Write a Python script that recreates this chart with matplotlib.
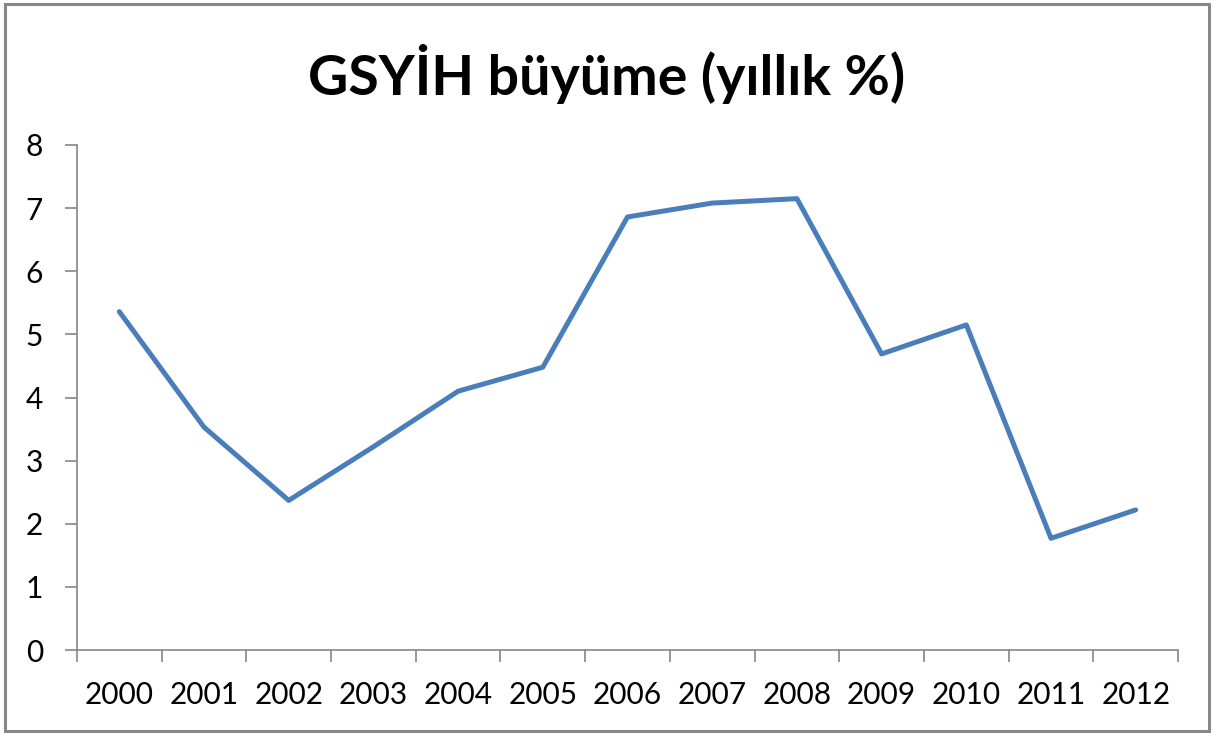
import matplotlib.pyplot as plt
from matplotlib.patches import Rectangle
import numpy as np

# Data
years = ['2000', '2001', '2002', '2003', '2004', '2005', '2006',
         '2007', '2008', '2009', '2010', '2011', '2012']
growth = [5.36, 3.53, 2.37, 3.22, 4.10, 4.48, 6.86,
          7.08, 7.15, 4.69, 5.15, 1.77, 2.22]

plt.rcParams['font.family'] = ['Lato', 'DejaVu Sans']

fig = plt.figure(figsize=(12.14, 7.33), dpi=100)
ax = fig.add_axes([0.0634, 0.1132, 0.9070, 0.6890])

x = np.arange(len(years))
ax.plot(x, growth, color='#4A7EBB', linewidth=3.6, solid_joinstyle='round',
        solid_capstyle='round')

ax.set_xlim(-0.5, len(years) - 0.5)
ax.set_ylim(0, 8)

# category labels in the middle, tick marks between categories
ax.set_xticks(x)
ax.set_xticklabels(years)
ax.set_xticks(np.arange(-0.5, len(years)), minor=True)
ax.tick_params(axis='x', which='major', length=0, pad=22, labelsize=21.5)
ax.tick_params(axis='x', which='minor', length=8.5, width=1.2, color='#868686')
ax.set_yticks(range(0, 9))
ax.tick_params(axis='y', length=8.5, width=1.2, color='#868686', pad=16,
               labelsize=21.5)

for side in ['top', 'right']:
    ax.spines[side].set_visible(False)
for side in ['left', 'bottom']:
    ax.spines[side].set_color('#868686')
    ax.spines[side].set_linewidth(1.2)

fig.text(0.5, 0.899, 'GSYİH büyüme (yıllık %)', ha='center', va='center',
         fontsize=40, fontweight='bold')

# chart border
fig.patches.append(Rectangle((0.0045, 0.0027), 0.9915, 0.9925,
                             transform=fig.transFigure, fill=False,
                             edgecolor='#878787', linewidth=2.2))

fig.savefig('out.png', dpi=100)
